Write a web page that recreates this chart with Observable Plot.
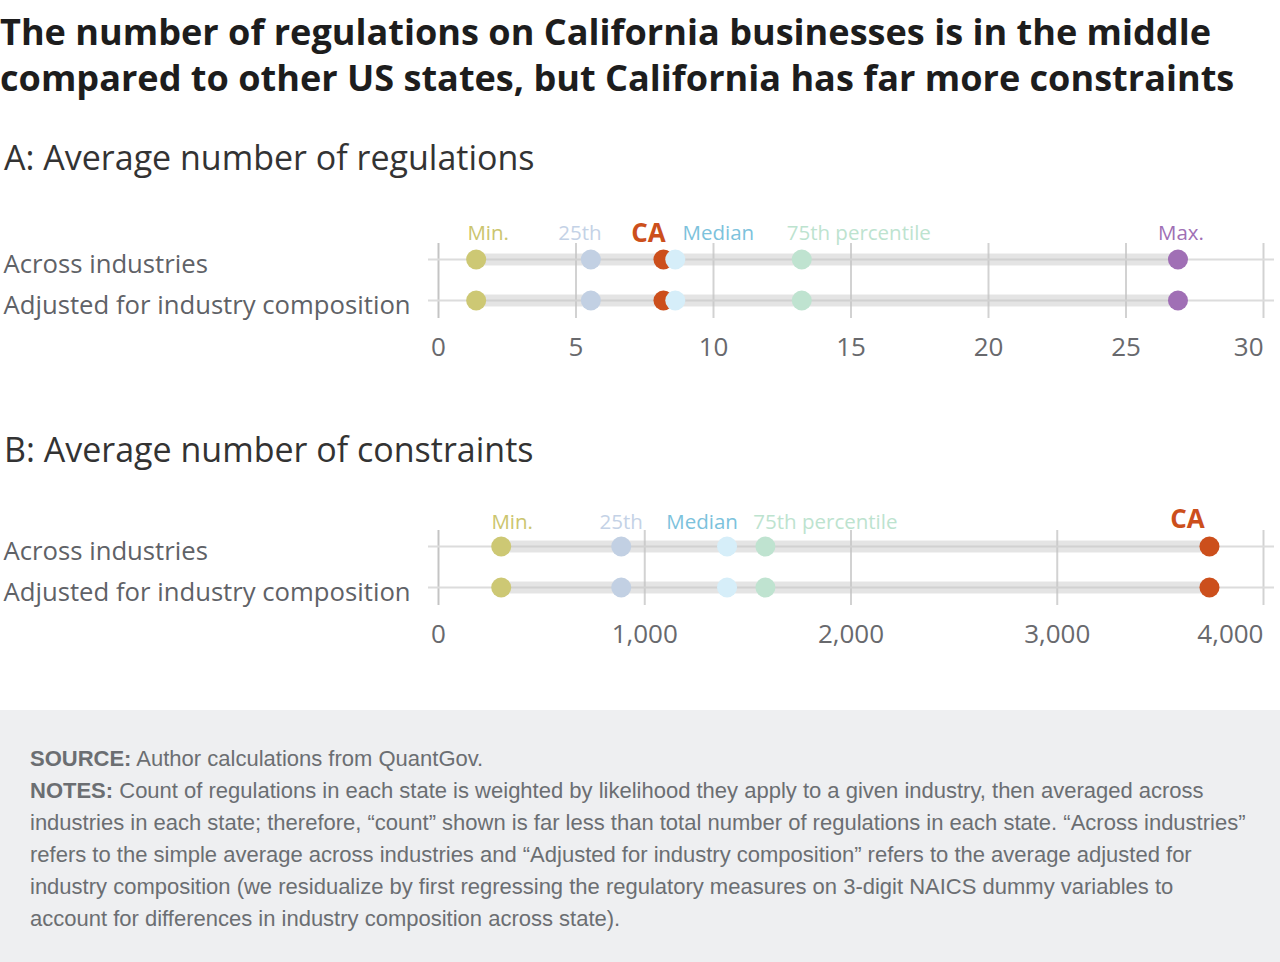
<!DOCTYPE html>
<html>
<head>
<meta charset="utf-8">
<script src="https://cdn.jsdelivr.net/npm/d3@7"></script>
<script src="https://cdn.jsdelivr.net/npm/@observablehq/plot@0.6"></script>
<style>
  body { margin: 0; width: 1280px; height: 962px; position: relative; background: #fff; overflow: hidden; font-family: "Open Sans", sans-serif; }
  .title { position: absolute; left: 0; top: 8px; font-weight: 700; font-size: 36.1px; line-height: 46px; color: #1d1d1d; white-space: nowrap; }
  .panel-title { position: absolute; left: 4px; font-size: 34px; line-height: 34px; color: #333; white-space: nowrap; }
  .chart { position: absolute; left: 0; }
  .notes { position: absolute; left: 0; top: 710px; width: 1280px; height: 252px; background: #eeeff1; box-sizing: border-box; padding: 33px 0 0 30px; font-family: "Liberation Sans", Arial, sans-serif; font-size: 22px; line-height: 32px; color: #6b6e72; white-space: nowrap; }
  .notes b { font-weight: 700; }
</style>
</head>
<body>
<div class="title">The number of regulations on California businesses is in the middle<br>compared to other US states, but California has far more constraints</div>
<div class="panel-title" style="top:140px">A: Average number of regulations</div>
<div class="chart" id="chartA" style="top:200px"></div>
<div class="panel-title" style="top:432px">B: Average number of constraints</div>
<div class="chart" id="chartB" style="top:487px"></div>
<div class="notes">
<b>SOURCE:</b> Author calculations from QuantGov.<br>
<b>NOTES:</b> Count of regulations in each state is weighted by likelihood they apply to a given industry, then averaged across<br>
industries in each state; therefore, “count” shown is far less than total number of regulations in each state. “Across industries”<br>
refers to the simple average across industries and “Adjusted for industry composition” refers to the average adjusted for<br>
industry composition (we residualize by first regressing the regulatory measures on 3-digit NAICS dummy variables to<br>
account for differences in industry composition across state).
</div>
<script>
// Row categories shared by both panels
const categories = ["Across industries", "Adjusted for industry composition"];

// Panel A: average number of regulations
const regStats = ["Min.", "25th", "CA", "Median", "75th percentile", "Max."];
const regAcross = [1.37, 5.54, 8.18, 8.61, 13.21, 26.89];
const regAdjusted = [1.37, 5.54, 8.18, 8.61, 13.21, 26.89];
const regTicks = [0, 5, 10, 15, 20, 25, 30];

// Panel B: average number of constraints
const conStats = ["Min.", "25th", "Median", "75th percentile", "CA"];
const conAcross = [304, 886, 1399, 1585, 3738];
const conAdjusted = [304, 886, 1399, 1585, 3738];
const conTicks = [0, 1000, 2000, 3000, 4000];

// Colours for the markers and their labels
const dotColor = {"Min.": "#cdc874", "25th": "#c2d0e3", "CA": "#cc4f1c", "Median": "#d6eef9", "75th percentile": "#bfe3d0", "Max.": "#a06fb5"};
const labelColor = {"Min.": "#cbc56e", "25th": "#c4d2e6", "CA": "#cc4f1c", "Median": "#7cc2dc", "75th percentile": "#bde3cf", "Max.": "#a06fb5"};

function rangeChart({stats, across, adjusted, ticks, domain, nudge, labelDy, caDy, tickFormat}) {
  const rows = [];
  categories.forEach((cat, j) => {
    const vals = j === 0 ? across : adjusted;
    stats.forEach((s, i) => rows.push({cat, stat: s, value: vals[i]}));
  });
  const spans = categories.map((cat, j) => {
    const vals = j === 0 ? across : adjusted;
    return {cat, lo: d3.min(vals), hi: d3.max(vals)};
  });
  // One label per statistic, set above the first row
  const labelMarks = rows.filter(d => d.cat === categories[0]).map(d => Plot.text([d], {
    x: "value", y: "cat", text: "stat",
    dx: nudge[d.stat], dy: d.stat === "CA" ? caDy : labelDy,
    textAnchor: "middle", lineAnchor: "middle",
    fill: labelColor[d.stat], fontSize: d.stat === "CA" ? 26 : 20.5, fontWeight: d.stat === "CA" ? 700 : 400
  }));
  return Plot.plot({
    width: 1280, height: 180,
    marginLeft: 438, marginRight: 17, marginTop: 59, marginBottom: 80,
    style: {fontFamily: "Open Sans", overflow: "visible", background: "transparent"},
    x: {domain},
    y: {type: "point", domain: categories, padding: 0, axis: null},
    marks: [
      Plot.ruleX(ticks, {stroke: d => d === 0 ? "#c4c4c4" : "#d2d2d2", strokeWidth: 2, insetTop: -16, insetBottom: -18}),
      Plot.ruleY(categories, {y: d => d, stroke: "#dcdcdc", strokeWidth: 2, insetLeft: -10, insetRight: -11}),
      Plot.ruleY(spans, {y: "cat", x1: "lo", x2: "hi", stroke: "#c4c4c4", strokeOpacity: 0.45, strokeWidth: 12}),
      Plot.dot(rows, {x: "value", y: "cat", r: 10, fill: d => dotColor[d.stat], stroke: "none"}),
      ...labelMarks,
      Plot.text(categories, {y: d => d, text: d => d, frameAnchor: "left", dx: -435, dy: 5,
        textAnchor: "start", lineAnchor: "middle", fontSize: 25.7, fill: "#5f6267"}),
      Plot.axisX(ticks.slice(0, -1), {tickSize: 0, tickPadding: 47, lineAnchor: "middle",
        fontSize: 26, color: "#68696d", tickFormat}),
      Plot.axisX(ticks.slice(-1), {tickSize: 0, tickPadding: 47, lineAnchor: "middle", textAnchor: "end",
        fontSize: 26, color: "#68696d", tickFormat})
    ]
  });
}

document.getElementById("chartA").append(rangeChart({
  stats: regStats, across: regAcross, adjusted: regAdjusted, ticks: regTicks, domain: [0, 30],
  nudge: {"Min.": 12, "25th": -11, "CA": -15, "Median": 43, "75th percentile": 57, "Max.": 3},
  labelDy: -26, caDy: -26, tickFormat: d3.format(",")
}));

document.getElementById("chartB").append(rangeChart({
  stats: conStats, across: conAcross, adjusted: conAdjusted, ticks: conTicks, domain: [0, 4000],
  nudge: {"Min.": 11, "25th": 0, "Median": -25, "75th percentile": 60, "CA": -22},
  labelDy: -24.5, caDy: -27, tickFormat: d3.format(",")
}));
</script>
</body>
</html>
